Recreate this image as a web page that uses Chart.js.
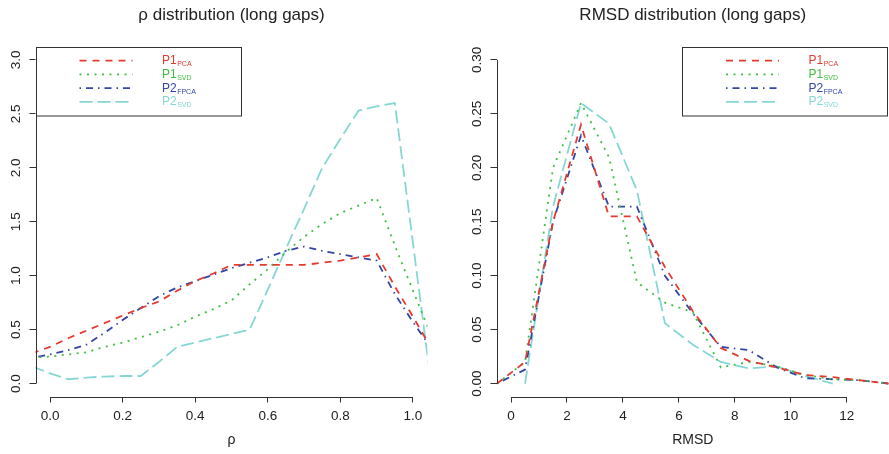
<!DOCTYPE html>
<html>
<head>
<meta charset="utf-8">
<script src="https://cdn.jsdelivr.net/npm/chart.js@4"></script>
<style>
  html, body { margin: 0; padding: 0; background: #fff; }
  #wrap { position: relative; width: 889px; height: 454px; }
  .panel { position: absolute; top: 0; height: 454px; }
  #leftPanel { left: 0; width: 445px; }
  #rightPanel { left: 445px; width: 444px; }
</style>
</head>
<body>
<div id="wrap">
  <div class="panel" id="leftPanel"><canvas id="rhoChart"></canvas></div>
  <div class="panel" id="rightPanel"><canvas id="rmsdChart"></canvas></div>
</div>
<script>
// rho panel (frequency polygon points)
const rhoX = [-0.05, 0.00, 0.05, 0.10, 0.15, 0.20, 0.25, 0.30, 0.35, 0.40, 0.45, 0.50,
              0.55, 0.60, 0.65, 0.70, 0.75, 0.80, 0.85, 0.90, 0.95, 1.00, 1.05];
const rhoP1PCA  = [0.28, 0.34, 0.42, 0.49, 0.56, 0.63, 0.70, 0.76, 0.86, 0.95, 1.02, 1.10,
                   1.10, 1.10, 1.10, 1.10, 1.12, 1.14, 1.17, 1.20, 0.90, 0.62, 0.33];
const rhoP1SVD  = [0.24, 0.25, 0.27, 0.29, 0.34, 0.38, 0.43, 0.48, 0.54, 0.62, 0.69, 0.77,
                   0.92, 1.06, 1.22, 1.36, 1.48, 1.58, 1.65, 1.72, 1.28, 0.86, 0.45];
const rhoP2FPCA = [0.24, 0.27, 0.31, 0.36, 0.47, 0.59, 0.70, 0.81, 0.89, 0.95, 1.01, 1.07,
                   1.12, 1.17, 1.23, 1.27, 1.23, 1.20, 1.17, 1.14, 0.83, 0.57, 0.33];
const rhoP2SVD  = [0.16, 0.095, 0.04, 0.055, 0.065, 0.07, 0.07, 0.20, 0.34, 0.38, 0.42, 0.46,
                   0.50, 0.87, 1.25, 1.62, 2.00, 2.27, 2.53, 2.57, 2.60, 1.30, 0.00];
const rhoXTicks = [0, 0.2, 0.4, 0.6, 0.8, 1.0];
const rhoXLabels = ["0.0", "0.2", "0.4", "0.6", "0.8", "1.0"];
const rhoYTicks = [0, 0.5, 1.0, 1.5, 2.0, 2.5, 3.0];
const rhoYLabels = ["0.0", "0.5", "1.0", "1.5", "2.0", "2.5", "3.0"];

// RMSD panel
const rmsdX = [-0.5, 0.5, 1.5, 2.5, 3.5, 4.5, 5.5, 6.5, 7.5, 8.5, 9.5, 10.5, 11.5, 12.5, 13.5];
const rmsdP1PCA  = [0, 0.020, 0.150, 0.240, 0.155, 0.155, 0.108, 0.067, 0.033, 0.021, 0.015, 0.008, 0.006, 0.003, 0];
const rmsdP1SVD  = [0, 0.020, 0.200, 0.260, 0.210, 0.094, 0.075, 0.066, 0.015, 0.020, 0.016, 0.008, 0.004, 0.003, 0];
const rmsdP2FPCA = [0, 0.013, 0.150, 0.230, 0.164, 0.164, 0.100, 0.065, 0.034, 0.031, 0.015, 0.005, 0.004, 0.003, 0];
const rmsdP2SVD  = [null, 0, 0.164, 0.260, 0.241, 0.179, 0.056, 0.036, 0.020, 0.014, 0.016, 0.007, 0, null, null];
const rmsdXTicks = [0, 2, 4, 6, 8, 10, 12];
const rmsdXLabels = ["0", "2", "4", "6", "8", "10", "12"];
const rmsdYTicks = [0, 0.05, 0.10, 0.15, 0.20, 0.25, 0.30];
const rmsdYLabels = ["0.00", "0.05", "0.10", "0.15", "0.20", "0.25", "0.30"];

const FONT = '"Liberation Sans", Arial, Helvetica, sans-serif';
const RED = "#e53a2f", GREEN = "#3fbf3f", BLUE = "#3345a5", TEAL = "#86d7d3";

function series(xs, ys, label, sub, color, dash) {
  return {
    label: label,
    sub: sub,
    data: xs.map((x, i) => ({ x: x, y: ys[i] })),
    borderColor: color,
    borderDash: dash,
    borderWidth: 1.8,
    pointRadius: 0,
    tension: 0,
    fill: false,
    clip: 0
  };
}

// base-R look: axis lines only between first and last tick, rotated y labels, boxed legend
const rAxes = {
  id: "rAxes",
  afterDraw(chart, args, opts) {
    const { ctx, chartArea, scales: { x, y } } = chart;
    ctx.save();
    ctx.strokeStyle = "#333";
    ctx.lineWidth = 1;
    const yb = Math.round(chartArea.bottom) + 0.5;
    ctx.beginPath();
    ctx.moveTo(x.getPixelForValue(x.ticks[0].value), yb);
    ctx.lineTo(x.getPixelForValue(x.ticks[x.ticks.length - 1].value), yb);
    ctx.stroke();
    const xl = Math.round(chartArea.left) + 0.5;
    ctx.beginPath();
    ctx.moveTo(xl, y.getPixelForValue(y.ticks[0].value));
    ctx.lineTo(xl, y.getPixelForValue(y.ticks[y.ticks.length - 1].value));
    ctx.stroke();

    ctx.fillStyle = "#222";
    ctx.font = "13.5px " + FONT;
    ctx.textAlign = "center";
    ctx.textBaseline = "middle";
    y.ticks.forEach((t, i) => {
      ctx.save();
      ctx.translate(chartArea.left - 19.5, y.getPixelForValue(t.value));
      ctx.rotate(-Math.PI / 2);
      ctx.fillText(opts.yLabels[i], 0, 0);
      ctx.restore();
    });

    // legend box
    const bw = 205, bh = 68.5;
    const bx = opts.legendSide === "right" ? chartArea.right - 2 - bw : chartArea.left;
    const by = chartArea.top;
    ctx.fillStyle = "#fff";
    ctx.fillRect(bx, by, bw, bh);
    ctx.strokeStyle = "#333";
    ctx.lineWidth = 1;
    ctx.strokeRect(Math.round(bx) + 0.5, Math.round(by) + 0.5, bw, bh);
    chart.data.datasets.forEach((ds, i) => {
      const yy = by + 13.7 + i * 13.7;
      ctx.setLineDash(ds.borderDash);
      ctx.strokeStyle = ds.borderColor;
      ctx.lineWidth = ds.borderWidth;
      ctx.beginPath();
      ctx.moveTo(bx + 44, yy);
      ctx.lineTo(bx + 97, yy);
      ctx.stroke();
      ctx.setLineDash([]);
      ctx.fillStyle = ds.borderColor;
      ctx.textAlign = "left";
      ctx.textBaseline = "alphabetic";
      ctx.font = "12px " + FONT;
      ctx.fillText(ds.label, bx + 126.5, yy + 3.6);
      const w = ctx.measureText(ds.label).width;
      ctx.font = "7px " + FONT;
      ctx.fillText(ds.sub, bx + 126.5 + w + 0.5, yy + 5.5);
    });
    ctx.restore();
  }
};

function makeChart(canvasId, cfg) {
  return new Chart(document.getElementById(canvasId), {
    type: "line",
    data: { datasets: cfg.datasets },
    plugins: [rAxes],
    options: {
      responsive: true,
      maintainAspectRatio: false,
      animation: false,
      events: [],
      layout: { padding: { left: 0, right: cfg.padRight, top: 0, bottom: 0 } },
      plugins: {
        legend: { display: false },
        tooltip: { enabled: false },
        title: {
          display: true,
          text: cfg.title,
          fullSize: false,
          color: "#222",
          font: { family: FONT, size: 17, weight: "normal" },
          padding: { top: 4.8, bottom: 21.8 }
        },
        rAxes: { yLabels: cfg.yLabels, legendSide: cfg.legendSide }
      },
      scales: {
        x: {
          type: "linear",
          min: cfg.xMin,
          max: cfg.xMax,
          afterBuildTicks: (s) => { s.ticks = cfg.xTicks.map((v) => ({ value: v })); },
          afterFit: (s) => { s.height = 57.5; },
          border: { display: false },
          grid: { drawOnChartArea: false, drawTicks: true, tickLength: 6, color: "#333" },
          ticks: {
            autoSkip: false,
            maxRotation: 0,
            padding: 5.7,
            color: "#222",
            font: { family: FONT, size: 13.5 },
            callback: (v, i) => cfg.xLabels[i]
          },
          title: {
            display: true,
            text: cfg.xTitle,
            color: "#222",
            font: { family: FONT, size: 14 },
            padding: { top: 0, bottom: 5 }
          }
        },
        y: {
          type: "linear",
          min: cfg.yMin,
          max: cfg.yMax,
          afterBuildTicks: (s) => { s.ticks = cfg.yTicks.map((v) => ({ value: v })); },
          afterFit: (s) => { s.width = cfg.yWidth; },
          border: { display: false },
          grid: { drawOnChartArea: false, drawTicks: true, tickLength: 6, color: "#333" },
          ticks: { display: false }
        }
      }
    }
  });
}

makeChart("rhoChart", {
  title: "\u03c1 distribution (long gaps)",
  xTitle: "\u03c1",
  datasets: [
    series(rhoX, rhoP1PCA, "P1", "PCA", RED, [7, 6]),
    series(rhoX, rhoP1SVD, "P1", "SVD", GREEN, [2, 5.5]),
    series(rhoX, rhoP2FPCA, "P2", "FPCA", BLUE, [1.5, 5, 7, 5]),
    series(rhoX, rhoP2SVD, "P2", "SVD", TEAL, [13, 5])
  ],
  xMin: -0.04, xMax: 1.04, yMin: -0.12, yMax: 3.12,
  xTicks: rhoXTicks, xLabels: rhoXLabels, yTicks: rhoYTicks, yLabels: rhoYLabels,
  yWidth: 35.5, padRight: 17.5, legendSide: "left"
});

makeChart("rmsdChart", {
  title: "RMSD distribution (long gaps)",
  xTitle: "RMSD",
  datasets: [
    series(rmsdX, rmsdP1PCA, "P1", "PCA", RED, [7, 6]),
    series(rmsdX, rmsdP1SVD, "P1", "SVD", GREEN, [2, 5.5]),
    series(rmsdX, rmsdP2FPCA, "P2", "FPCA", BLUE, [1.5, 5, 7, 5]),
    series(rmsdX, rmsdP2SVD, "P2", "SVD", TEAL, [13, 5])
  ],
  xMin: -0.52, xMax: 13.51, yMin: -0.012, yMax: 0.312,
  xTicks: rmsdXTicks, xLabels: rmsdXLabels, yTicks: rmsdYTicks, yLabels: rmsdYLabels,
  yWidth: 51.5, padRight: 0, legendSide: "right"
});
</script>
</body>
</html>
